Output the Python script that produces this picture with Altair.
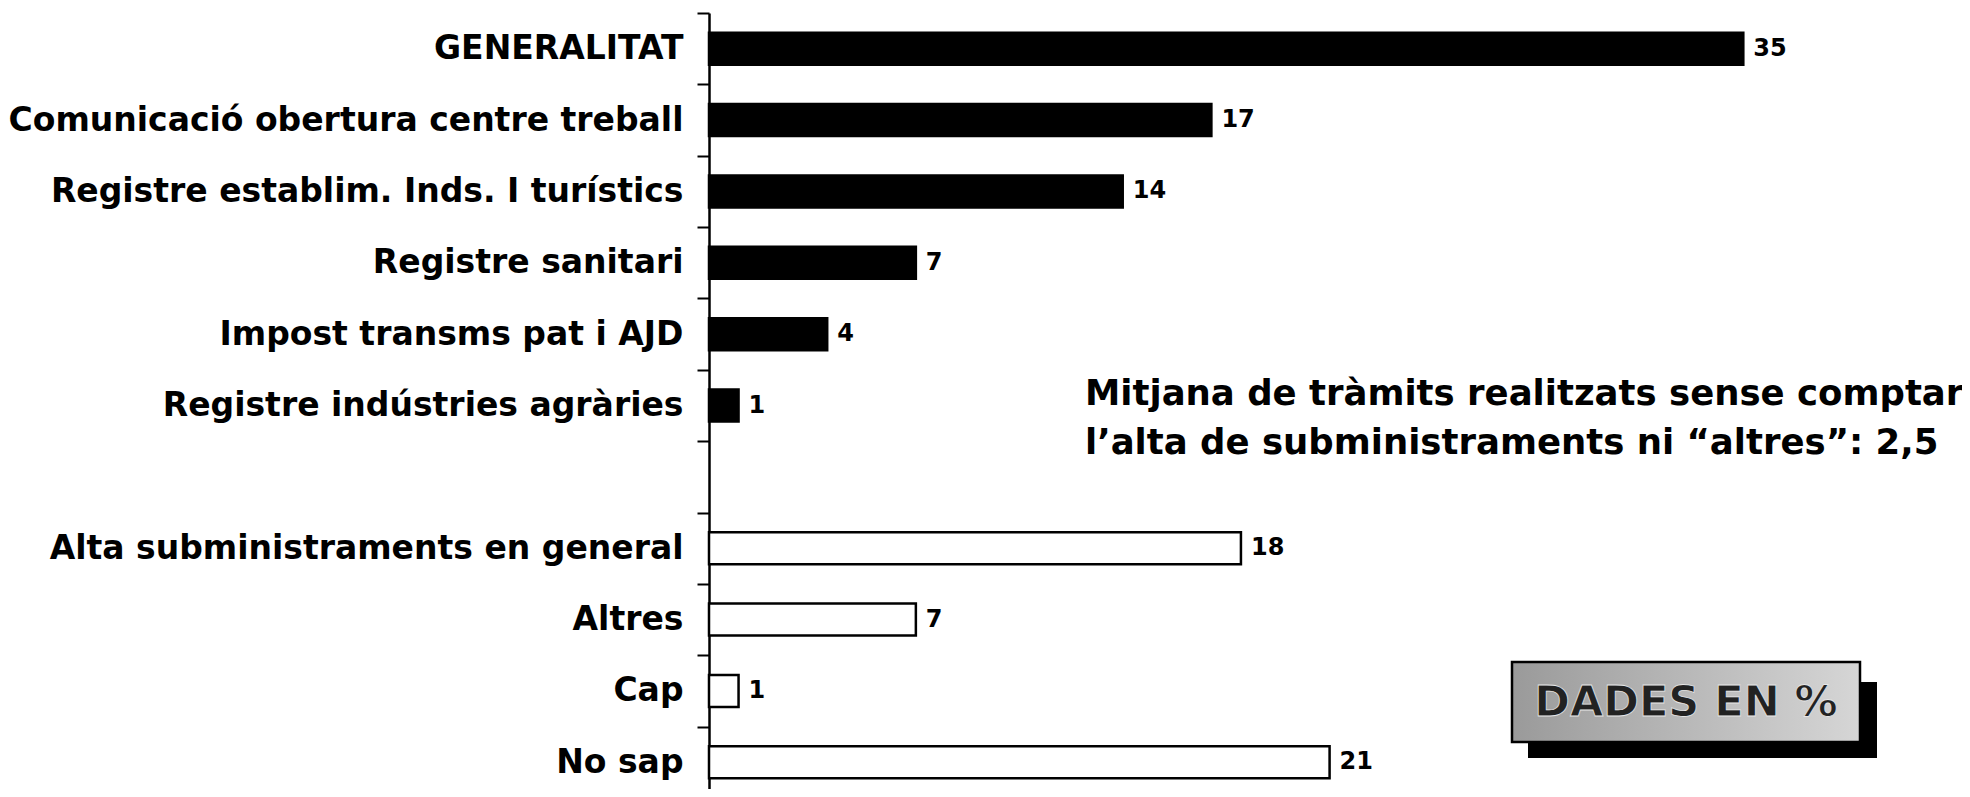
import altair as alt
import pandas as pd

# --- data ---
categories = [
    "GENERALITAT",
    "Comunicació obertura centre treball",
    "Registre establim. Inds. I turístics",
    "Registre sanitari",
    "Impost transms pat i AJD",
    "Registre indústries agràries",
    " ",
    "Alta subministraments en general",
    "Altres",
    "Cap",
    "No sap",
]
bar_categories = [c for c in categories if c.strip()]
values = [35, 17, 14, 7, 4, 1, 18, 7, 1, 21]
groups = ["Generalitat"] * 6 + ["Altres"] * 4

note_lines = [
    "Mitjana de tràmits realitzats sense comptar",
    "l’alta de subministraments ni “altres”: 2,5",
]
badge_text = "DADES EN %"

df = pd.DataFrame({"cat": bar_categories, "value": values, "group": groups})

FONT = "DejaVu Sans"

y_enc = alt.Y(
    "cat:N",
    sort=categories,
    scale=alt.Scale(domain=categories, range=[0, 785], paddingInner=0, paddingOuter=0),
    axis=alt.Axis(
        title=None,
        labelFont=FONT,
        labelFontSize=33,
        labelFontWeight="bold",
        labelColor="black",
        labelLimit=900,
        labelPadding=14,
        tickBand="extent",
        tickSize=12,
        tickWidth=2,
        tickColor="black",
        domainColor="black",
        domainWidth=2.5,
        grid=False,
    ),
)
x_enc = alt.X("value:Q", scale=alt.Scale(domain=[0, 42.4], nice=False, zero=True), axis=None)

bars = (
    alt.Chart(df)
    .mark_bar(size=32, stroke="black", strokeWidth=2.5)
    .encode(
        y=y_enc,
        x=x_enc,
        fill=alt.Fill(
            "group:N",
            scale=alt.Scale(domain=["Generalitat", "Altres"], range=["black", "white"]),
            legend=None,
        ),
    )
)

labels = (
    alt.Chart(df)
    .mark_text(align="left", baseline="middle", dx=10, font=FONT, fontSize=24,
               fontWeight="bold", color="black")
    .encode(y=alt.Y("cat:N", sort=categories), x="value:Q", text="value:Q")
)

note = (
    alt.Chart(pd.DataFrame({"t": [note_lines]}))
    .mark_text(align="left", baseline="alphabetic", font=FONT, fontSize=35.5,
               fontWeight="bold", color="black", lineHeight=49)
    .encode(x=alt.value(376), y=alt.value(392), text="t")
)

badge_df = pd.DataFrame({"t": [badge_text]})
shadow = (
    alt.Chart(badge_df)
    .mark_rect(color="black")
    .encode(x=alt.value(819), x2=alt.value(1168), y=alt.value(669), y2=alt.value(745))
)
box = (
    alt.Chart(badge_df)
    .mark_rect(
        stroke="black",
        strokeWidth=2.5,
        fill=alt.Gradient(
            gradient="linear",
            x1=0, y1=0, x2=1, y2=0,
            stops=[
                alt.GradientStop(offset=0, color="#9a9a9a"),
                alt.GradientStop(offset=1, color="#d6d6d6"),
            ],
        ),
    )
    .encode(x=alt.value(803), x2=alt.value(1151), y=alt.value(649), y2=alt.value(729))
)
badge = (
    alt.Chart(badge_df)
    .mark_text(align="center", baseline="middle", font=FONT, fontSize=43,
               fontWeight="bold", color="#222222", stroke="#e6e6e6", strokeWidth=0.8)
    .encode(x=alt.value(977), y=alt.value(690), text="t")
)

chart = (
    alt.layer(bars, labels, note, shadow, box, badge)
    .properties(
        width=1253,
        height=776,
        padding={"left": 701, "top": 5, "right": 0, "bottom": 0},
        autosize=alt.AutoSizeParams(type="none"),
        background="white",
    )
    .configure_view(stroke=None)
)

chart.save("out.html", embed_options={"renderer": "svg", "actions": False})
